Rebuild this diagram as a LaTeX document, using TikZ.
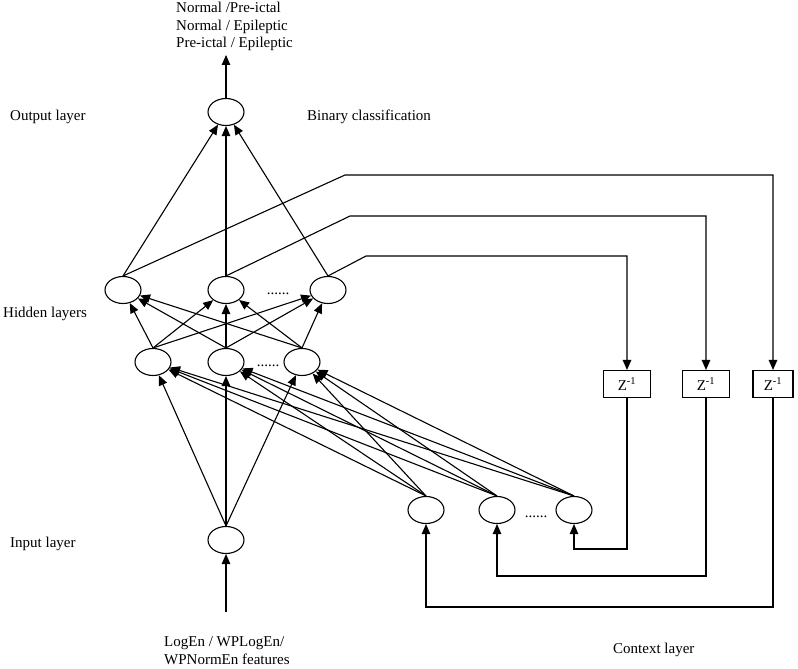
\documentclass[tikz,border=0pt]{standalone}
\usepackage{fontspec}
\setmainfont{Liberation Serif}
\usetikzlibrary{arrows.meta,shapes.geometric}
\begin{document}
\begin{tikzpicture}[x=1pt,y=-1pt,
  neuron/.style={draw, ellipse, minimum width=36pt, minimum height=27pt, inner sep=0pt, line width=1.1pt},
  zbox/.style={draw, rectangle, minimum width=47pt, minimum height=27pt, inner sep=0pt, line width=1.1pt, font=\fontsize{15}{18}\selectfont},
  conn/.style={line width=1.1pt, -{Triangle[length=10pt,width=8.5pt]}},
  lbl/.style={font=\fontsize{15}{18}\selectfont, inner sep=0pt, anchor=base west},
  dotsl/.style={font=\fontsize{15}{18}\selectfont, inner sep=0pt, anchor=base}
]
\useasboundingbox (0,0) rectangle (798,669);

% neurons
\node[neuron] (out) at (226,112) {};
\node[neuron] (ha1) at (123,290) {};
\node[neuron] (ha2) at (226,290) {};
\node[neuron] (ha3) at (328,290) {};
\node[neuron] (hb1) at (153,362) {};
\node[neuron] (hb2) at (226,362) {};
\node[neuron] (hb3) at (302,362) {};
\node[neuron] (in) at (226,540) {};
\node[neuron] (c1) at (426,510) {};
\node[neuron] (c2) at (497,510) {};
\node[neuron] (c3) at (574,510) {};

% delay boxes
\node[zbox] (z1) at (627,384) {Z\textsuperscript{-1}};
\node[zbox] (z2) at (706,384) {Z\textsuperscript{-1}};
\node[zbox, minimum width=40pt] (z3) at (773,384) {Z\textsuperscript{-1}};

% dots
\node[dotsl] (d1) at (278,294) {......};
\node[dotsl] (d2) at (268,366) {......};
\node[dotsl] (d3) at (536,517) {......};

% labels
\node[lbl] (t1) at (176,13) {Normal /Pre-ictal};
\node[lbl] (t2) at (176,30.5) {Normal / Epileptic};
\node[lbl] (t3) at (176,48) {Pre-ictal / Epileptic};
\node[lbl] (lout) at (10,121) {Output layer};
\node[lbl] (lbin) at (307,121) {Binary classification};
\node[lbl] (lhid) at (3,317) {Hidden layers};
\node[lbl] (lin) at (10,547) {Input layer};
\node[lbl] (lf1) at (164,646) {LogEn / WPLogEn/};
\node[lbl] (lf2) at (164,664) {WPNormEn features};
\node[lbl] (lctx) at (613,653) {Context layer};

% output arrow
\coordinate (outtip) at (226,55);
\draw[conn] (out.north) -- (outtip);

% hidden2 -> output
\foreach \a in {1,2,3} \draw[conn] (ha\a.north) -- (out);

% hidden1 -> hidden2
\foreach \a in {1,2,3} \foreach \b in {1,2,3} \draw[conn] (hb\a.north) -- (ha\b);

% input -> hidden1
\foreach \b in {1,2,3} \draw[conn] (in.north) -- (hb\b);

% context -> hidden1
\foreach \a in {1,2,3} \foreach \b in {1,2,3} \draw[conn] (c\a.north) -- (hb\b);

% input feature arrow
\coordinate (inbot) at (226,612);
\draw[conn] (inbot) -- (in.south);

% feedback from hidden to delay boxes
\coordinate (f1) at (345,175);
\coordinate (f2) at (350,216);
\coordinate (f3) at (366,256);
\draw[conn] (ha1.north) -- (f1) -- (f1 -| z3.north) -- (z3.north);
\draw[conn] (ha2.north) -- (f2) -- (f2 -| z2.north) -- (z2.north);
\draw[conn] (ha3.north) -- (f3) -- (f3 -| z1.north) -- (z1.north);

% delay boxes to context nodes
\coordinate (b1) at (0,549);
\coordinate (b2) at (0,576);
\coordinate (b3) at (0,607);
\draw[conn] (z1.south) -- (z1.south |- b1) -- (c3.south |- b1) -- (c3.south);
\draw[conn] (z2.south) -- (z2.south |- b2) -- (c2.south |- b2) -- (c2.south);
\draw[conn] (z3.south) -- (z3.south |- b3) -- (c1.south |- b3) -- (c1.south);
\end{tikzpicture}
\end{document}
